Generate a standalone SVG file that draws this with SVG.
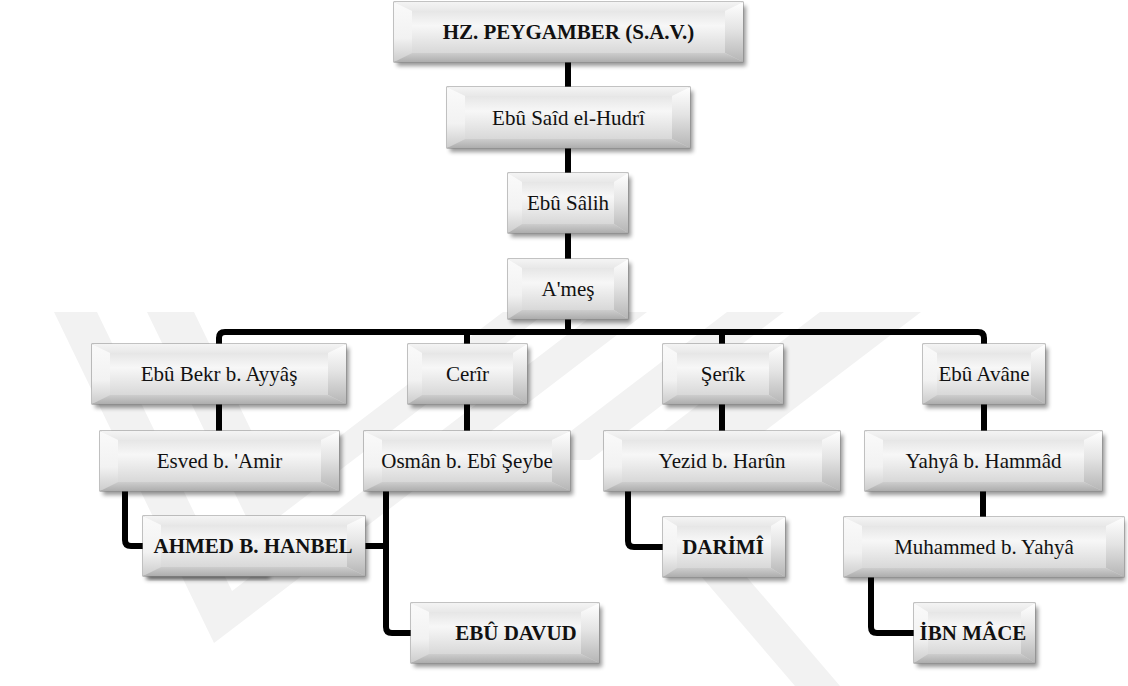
<svg xmlns="http://www.w3.org/2000/svg" width="1128" height="686" viewBox="0 0 1128 686">
<defs>
<linearGradient id="gFace" x1="0" y1="0" x2="0" y2="1"><stop offset="0" stop-color="#e6e6e6"/><stop offset="0.35" stop-color="#f7f7f7"/><stop offset="1" stop-color="#d8d8d8"/></linearGradient>
<linearGradient id="gTop" x1="0" y1="0" x2="0" y2="1"><stop offset="0" stop-color="#f4f4f4"/><stop offset="1" stop-color="#e8e8e8"/></linearGradient>
<linearGradient id="gLeft" x1="0" y1="0" x2="0" y2="1"><stop offset="0" stop-color="#fafafa"/><stop offset="0.6" stop-color="#f2f2f2"/><stop offset="1" stop-color="#cccccc"/></linearGradient>
<linearGradient id="gRight" x1="0" y1="0" x2="0" y2="1"><stop offset="0" stop-color="#ffffff"/><stop offset="0.45" stop-color="#e4e4e4"/><stop offset="1" stop-color="#b5b5b5"/></linearGradient>
<linearGradient id="gBot" x1="0" y1="0" x2="0" y2="1"><stop offset="0" stop-color="#cdcdcd"/><stop offset="1" stop-color="#adadad"/></linearGradient>
<filter id="blur" x="-10%" y="-30%" width="120%" height="160%"><feGaussianBlur stdDeviation="2"/></filter>
<style>
.wm{fill:#f2f2f2}
.sh{fill:#000;opacity:.4;filter:url(#blur)}
.out{fill:url(#gFace);stroke:#858585;stroke-width:1}
.bt{fill:url(#gTop)}
.bl{fill:url(#gLeft)}
.br{fill:url(#gRight)}
.bb{fill:url(#gBot)}
.fc{fill:url(#gFace)}
.t{font-family:"Liberation Serif","Times New Roman","DejaVu Serif",serif;font-size:21px;fill:#111;text-anchor:middle}
.b{font-weight:bold}
.cn{fill:none;stroke:#000;stroke-width:6;stroke-linejoin:round}
</style>
</defs>
<rect width="1128" height="686" fill="#fff"/>
<g id="watermark">
<polygon class="wm" points="147,312 255,535 547,312 503,312 277,484 194,312"/>
<polygon class="wm" points="54,312 214,643 647,312 597,312 232,591 97,312"/>
<polygon class="wm" points="727,312 784,312 590,460 533,460"/>
<polygon class="wm" points="820,312 921,312 727,460 626,460"/>
<polygon class="wm" points="700,575 745,575 840,686 795,686"/>
</g>
<g id="connectors">
<path class="cn" d="M568,62V87M568,148V173M568,233V259M568,319V332"/>
<path class="cn" d="M219,344V338Q219,332 225,332H978Q984,332 984,338V344M467,332V344M722,332V344"/>
<path class="cn" d="M219,404V431M467,404V431M722,404V431M984,404V431M983,491V517"/>
<path class="cn" d="M125,491V540Q125,546 131,546H143"/>
<path class="cn" d="M386,491V627Q386,633 392,633H411M365,546H386"/>
<path class="cn" d="M628,491V541Q628,547 634,547H663"/>
<path class="cn" d="M871,577V627Q871,633 877,633H914"/>
</g>
<g id="n0">
<rect class="sh" x="397" y="6" width="349" height="60"/>
<rect class="out" x="394" y="2" width="349" height="60"/>
<polygon class="bt" points="394,2 743,2 725,11 412,11"/>
<polygon class="bl" points="394,2 412,11 412,53 394,62"/>
<polygon class="br" points="743,2 743,62 725,53 725,11"/>
<polygon class="bb" points="394,62 412,53 725,53 743,62"/>
<rect class="fc" x="412" y="11" width="313" height="42"/>
<text class="t b" x="568.5" y="39">HZ. PEYGAMBER (S.A.V.)</text>
</g>
<g id="n1">
<rect class="sh" x="450" y="91" width="243" height="61"/>
<rect class="out" x="447" y="87" width="243" height="61"/>
<polygon class="bt" points="447,87 690,87 672,96 465,96"/>
<polygon class="bl" points="447,87 465,96 465,139 447,148"/>
<polygon class="br" points="690,87 690,148 672,139 672,96"/>
<polygon class="bb" points="447,148 465,139 672,139 690,148"/>
<rect class="fc" x="465" y="96" width="207" height="43"/>
<text class="t" x="568.5" y="125">Ebû Saîd el-Hudrî</text>
</g>
<g id="n2">
<rect class="sh" x="511" y="177" width="120" height="60"/>
<rect class="out" x="508" y="173" width="120" height="60"/>
<polygon class="bt" points="508,173 628,173 614,182 522,182"/>
<polygon class="bl" points="508,173 522,182 522,224 508,233"/>
<polygon class="br" points="628,173 628,233 614,224 614,182"/>
<polygon class="bb" points="508,233 522,224 614,224 628,233"/>
<rect class="fc" x="522" y="182" width="92" height="42"/>
<text class="t" x="568" y="210">Ebû Sâlih</text>
</g>
<g id="n3">
<rect class="sh" x="511" y="263" width="120" height="60"/>
<rect class="out" x="508" y="259" width="120" height="60"/>
<polygon class="bt" points="508,259 628,259 614,268 522,268"/>
<polygon class="bl" points="508,259 522,268 522,310 508,319"/>
<polygon class="br" points="628,259 628,319 614,310 614,268"/>
<polygon class="bb" points="508,319 522,310 614,310 628,319"/>
<rect class="fc" x="522" y="268" width="92" height="42"/>
<text class="t" x="568" y="296">A'meş</text>
</g>
<g id="n4">
<rect class="sh" x="95" y="348" width="254" height="60"/>
<rect class="out" x="92" y="344" width="254" height="60"/>
<polygon class="bt" points="92,344 346,344 328,353 110,353"/>
<polygon class="bl" points="92,344 110,353 110,395 92,404"/>
<polygon class="br" points="346,344 346,404 328,395 328,353"/>
<polygon class="bb" points="92,404 110,395 328,395 346,404"/>
<rect class="fc" x="110" y="353" width="218" height="42"/>
<text class="t" x="219" y="381">Ebû Bekr b. Ayyâş</text>
</g>
<g id="n5">
<rect class="sh" x="411" y="348" width="119" height="60"/>
<rect class="out" x="408" y="344" width="119" height="60"/>
<polygon class="bt" points="408,344 527,344 513,353 422,353"/>
<polygon class="bl" points="408,344 422,353 422,395 408,404"/>
<polygon class="br" points="527,344 527,404 513,395 513,353"/>
<polygon class="bb" points="408,404 422,395 513,395 527,404"/>
<rect class="fc" x="422" y="353" width="91" height="42"/>
<text class="t" x="467.5" y="381">Cerîr</text>
</g>
<g id="n6">
<rect class="sh" x="666" y="348" width="120" height="60"/>
<rect class="out" x="663" y="344" width="120" height="60"/>
<polygon class="bt" points="663,344 783,344 769,353 677,353"/>
<polygon class="bl" points="663,344 677,353 677,395 663,404"/>
<polygon class="br" points="783,344 783,404 769,395 769,353"/>
<polygon class="bb" points="663,404 677,395 769,395 783,404"/>
<rect class="fc" x="677" y="353" width="92" height="42"/>
<text class="t" x="723" y="381">Şerîk</text>
</g>
<g id="n7">
<rect class="sh" x="926" y="348" width="122" height="60"/>
<rect class="out" x="923" y="344" width="122" height="60"/>
<polygon class="bt" points="923,344 1045,344 1031,353 937,353"/>
<polygon class="bl" points="923,344 937,353 937,395 923,404"/>
<polygon class="br" points="1045,344 1045,404 1031,395 1031,353"/>
<polygon class="bb" points="923,404 937,395 1031,395 1045,404"/>
<rect class="fc" x="937" y="353" width="94" height="42"/>
<text class="t" x="984" y="381">Ebû Avâne</text>
</g>
<g id="n8">
<rect class="sh" x="103" y="435" width="239" height="60"/>
<rect class="out" x="100" y="431" width="239" height="60"/>
<polygon class="bt" points="100,431 339,431 321,440 118,440"/>
<polygon class="bl" points="100,431 118,440 118,482 100,491"/>
<polygon class="br" points="339,431 339,491 321,482 321,440"/>
<polygon class="bb" points="100,491 118,482 321,482 339,491"/>
<rect class="fc" x="118" y="440" width="203" height="42"/>
<text class="t" x="219.5" y="468">Esved b. 'Amir</text>
</g>
<g id="n9">
<rect class="sh" x="367" y="435" width="206" height="60"/>
<rect class="out" x="364" y="431" width="206" height="60"/>
<polygon class="bt" points="364,431 570,431 552,440 382,440"/>
<polygon class="bl" points="364,431 382,440 382,482 364,491"/>
<polygon class="br" points="570,431 570,491 552,482 552,440"/>
<polygon class="bb" points="364,491 382,482 552,482 570,491"/>
<rect class="fc" x="382" y="440" width="170" height="42"/>
<text class="t" x="467" y="468">Osmân b. Ebî Şeybe</text>
</g>
<g id="n10">
<rect class="sh" x="607" y="435" width="236" height="60"/>
<rect class="out" x="604" y="431" width="236" height="60"/>
<polygon class="bt" points="604,431 840,431 822,440 622,440"/>
<polygon class="bl" points="604,431 622,440 622,482 604,491"/>
<polygon class="br" points="840,431 840,491 822,482 822,440"/>
<polygon class="bb" points="604,491 622,482 822,482 840,491"/>
<rect class="fc" x="622" y="440" width="200" height="42"/>
<text class="t" x="722" y="468">Yezid b. Harûn</text>
</g>
<g id="n11">
<rect class="sh" x="868" y="435" width="237" height="60"/>
<rect class="out" x="865" y="431" width="237" height="60"/>
<polygon class="bt" points="865,431 1102,431 1084,440 883,440"/>
<polygon class="bl" points="865,431 883,440 883,482 865,491"/>
<polygon class="br" points="1102,431 1102,491 1084,482 1084,440"/>
<polygon class="bb" points="865,491 883,482 1084,482 1102,491"/>
<rect class="fc" x="883" y="440" width="201" height="42"/>
<text class="t" x="983.5" y="468">Yahyâ b. Hammâd</text>
</g>
<g id="n12">
<rect class="sh" x="146" y="520" width="222" height="60"/>
<rect class="sh" x="148" y="574" width="122" height="5"/>
<rect class="out" x="143" y="516" width="222" height="60"/>
<polygon class="bt" points="143,516 365,516 347,525 161,525"/>
<polygon class="bl" points="143,516 161,525 161,567 143,576"/>
<polygon class="br" points="365,516 365,576 347,567 347,525"/>
<polygon class="bb" points="143,576 161,567 347,567 365,576"/>
<rect class="fc" x="161" y="525" width="186" height="42"/>
<text class="t b" x="253" y="553">AHMED B. HANBEL</text>
</g>
<g id="n13">
<rect class="sh" x="666" y="521" width="122" height="60"/>
<rect class="out" x="663" y="517" width="122" height="60"/>
<polygon class="bt" points="663,517 785,517 771,526 677,526"/>
<polygon class="bl" points="663,517 677,526 677,568 663,577"/>
<polygon class="br" points="785,517 785,577 771,568 771,526"/>
<polygon class="bb" points="663,577 677,568 771,568 785,577"/>
<rect class="fc" x="677" y="526" width="94" height="42"/>
<text class="t b" x="723" y="554">DARİMÎ</text>
</g>
<g id="n14">
<rect class="sh" x="847" y="521" width="278" height="60"/>
<rect class="out" x="844" y="517" width="280" height="60"/>
<polygon class="bt" points="844,517 1124,517 1106,526 862,526"/>
<polygon class="bl" points="844,517 862,526 862,568 844,577"/>
<polygon class="br" points="1124,517 1124,577 1106,568 1106,526"/>
<polygon class="bb" points="844,577 862,568 1106,568 1124,577"/>
<rect class="fc" x="862" y="526" width="244" height="42"/>
<text class="t" x="984" y="554">Muhammed b. Yahyâ</text>
</g>
<g id="n15">
<rect class="sh" x="414" y="607" width="188" height="60"/>
<rect class="out" x="411" y="603" width="188" height="60"/>
<polygon class="bt" points="411,603 599,603 581,612 429,612"/>
<polygon class="bl" points="411,603 429,612 429,654 411,663"/>
<polygon class="br" points="599,603 599,663 581,654 581,612"/>
<polygon class="bb" points="411,663 429,654 581,654 599,663"/>
<rect class="fc" x="429" y="612" width="152" height="42"/>
<text class="t b" x="516" y="640">EBÛ DAVUD</text>
</g>
<g id="n16">
<rect class="sh" x="917" y="607" width="121" height="60"/>
<rect class="out" x="914" y="603" width="121" height="60"/>
<polygon class="bt" points="914,603 1035,603 1021,612 928,612"/>
<polygon class="bl" points="914,603 928,612 928,654 914,663"/>
<polygon class="br" points="1035,603 1035,663 1021,654 1021,612"/>
<polygon class="bb" points="914,663 928,654 1021,654 1035,663"/>
<rect class="fc" x="928" y="612" width="93" height="42"/>
<text class="t b" x="973" y="640">İBN MÂCE</text>
</g>
</svg>
